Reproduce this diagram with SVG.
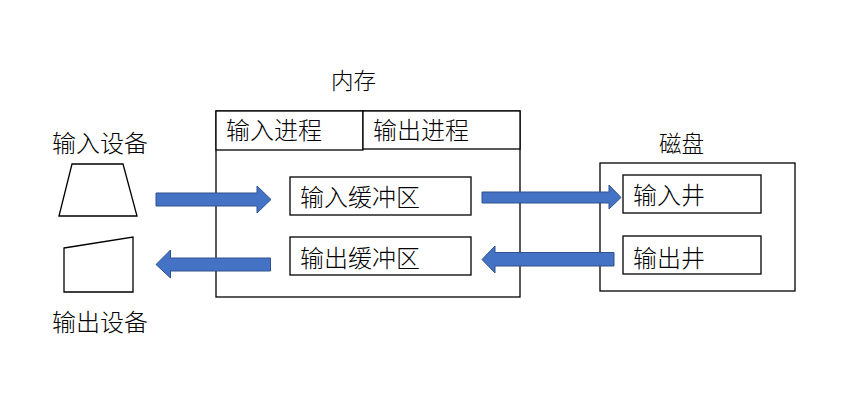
<svg xmlns="http://www.w3.org/2000/svg" width="863" height="412" viewBox="0 0 863 412">
<style>
.box{fill:#fff;stroke:#000;stroke-width:1.3}
.shape{fill:#fff;stroke:#000;stroke-width:1.3}
.t{font-family:"Noto Sans CJK SC","Noto Sans",sans-serif;font-size:24px;font-weight:300;fill:#000}
.t2{font-family:"Noto Sans CJK SC","Noto Sans",sans-serif;font-size:22.5px;font-weight:300;fill:#000}
.arr{fill:#4472C4;stroke:#2F528F;stroke-width:1}
</style>
<rect width="863" height="412" fill="#fff"/>
<g id="memory">
<rect class="box" x="216" y="111" width="304" height="186"/>
<text class="t2" x="331" y="88.5">内存</text>
</g>
<g id="input-process">
<rect class="box" x="216" y="111" width="147" height="39"/>
<text class="t" x="226" y="139">输入进程</text>
</g>
<g id="output-process">
<rect class="box" x="363" y="111" width="157" height="38"/>
<text class="t" x="373" y="139">输出进程</text>
</g>
<g id="input-buffer">
<rect class="box" x="290" y="177" width="181" height="38"/>
<text class="t" x="300" y="206">输入缓冲区</text>
</g>
<g id="output-buffer">
<rect class="box" x="290" y="237" width="181" height="38"/>
<text class="t" x="300" y="267">输出缓冲区</text>
</g>
<g id="disk">
<rect class="box" x="600" y="163" width="195" height="128"/>
<text class="t2" x="659" y="152">磁盘</text>
</g>
<g id="input-well">
<rect class="box" x="623" y="175" width="138" height="38"/>
<text class="t" x="633" y="204">输入井</text>
</g>
<g id="output-well">
<rect class="box" x="623" y="236" width="138" height="38"/>
<text class="t" x="633" y="267">输出井</text>
</g>
<g id="input-device">
<polygon class="shape" points="59,216 72,164 123,164 137,216"/>
<text class="t" x="52" y="152">输入设备</text>
</g>
<g id="output-device">
<polygon class="shape" points="64,248 133,237 133,292 64,292"/>
<text class="t" x="52" y="331">输出设备</text>
</g>
<g id="connectors">
<polygon class="arr" points="156,193 257,193 257,186 271,199.5 257,213 257,206 156,206"/>
<polygon class="arr" points="270.5,258 170.5,258 170.5,250 156,264.5 170.5,278 170.5,271 270.5,271"/>
<polygon class="arr" points="482,192 609,192 609,185 621,197.5 609,209 609,203 482,203"/>
<polygon class="arr" points="614,252.5 495,252.5 495,246 482,259.5 495,273 495,266 614,266"/>
</g>
</svg>
